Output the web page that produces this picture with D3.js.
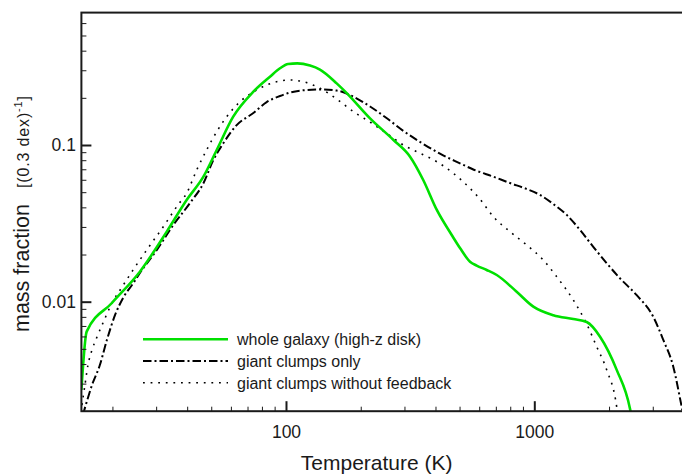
<!DOCTYPE html>
<html><head><meta charset="utf-8">
<script src="https://cdn.jsdelivr.net/npm/d3@7"></script>
<style>
body{margin:0;background:#fff}
svg{display:block}
text{font-family:"Liberation Sans",Arial,Helvetica,sans-serif;fill:#1a1a1a}
</style>
</head><body>
<svg id="c" width="682" height="475"></svg>
<script>
// ---- data ----
const wholeT = [15.0, 15.75, 19.9, 25.8, 33.1, 39.8, 46.5, 52.6, 61.3, 73.9, 86.2, 94.6, 102, 111, 125, 137, 160, 176, 218, 271, 316, 357, 405, 465, 502, 551, 586, 643, 706, 849, 991, 1193, 1436, 1626, 1840, 2147, 2429, 2497];
const wholeV = [0.00273, 0.00644, 0.00981, 0.01554, 0.028, 0.0446, 0.0628, 0.0929, 0.1516, 0.219, 0.273, 0.309, 0.329, 0.332, 0.3215, 0.303, 0.2475, 0.2138, 0.148, 0.1076, 0.0842, 0.0598, 0.0385, 0.02665, 0.022, 0.018, 0.0170, 0.01594, 0.0148, 0.01158, 0.0093, 0.0082, 0.00775, 0.00742, 0.00598, 0.00367, 0.00207, 0.00163];

const clumpsT = [15.2, 15.5, 16.55, 17.8, 19.0, 20.5, 22.3, 24.3, 25.8, 30.2, 35.2, 41.1, 46.5, 51.0, 55.9, 63.3, 73.9, 83.6, 94.6, 103.8, 121, 137, 160, 187, 218, 254, 297, 347, 417, 502, 568, 684, 798, 932, 1054, 1193, 1351, 1528, 1728, 1957, 2214, 2585, 3015, 3307, 3628, 3923, 4100];
const clumpsV = [0.00189, 0.0021, 0.00294, 0.00394, 0.0057, 0.00823, 0.01087, 0.01316, 0.01525, 0.0214, 0.0309, 0.0427, 0.057, 0.0802, 0.1025, 0.134, 0.16, 0.188, 0.2055, 0.2163, 0.2244, 0.226, 0.2227, 0.2033, 0.1761, 0.1487, 0.123, 0.1045, 0.088, 0.0764, 0.0698, 0.0628, 0.0572, 0.0524, 0.048, 0.042, 0.0358, 0.0287, 0.0224, 0.0176, 0.0141, 0.0110, 0.0080, 0.0057, 0.00385, 0.00213, 0.0015];

const noFbT = [15.08, 15.5, 15.94, 16.55, 17.33, 18.32, 19.92, 21.86, 24.2, 27.5, 32.05, 36.7, 39.8, 43.7, 47.9, 52.6, 57.7, 65.3, 73.9, 83.6, 94.6, 103.8, 117.4, 137, 160, 187, 218, 254, 297, 347, 405, 472, 551, 604, 684, 798, 932, 1087, 1231, 1436, 1626, 1784, 1957, 2147, 2194];
const noFbV = [0.00219, 0.00294, 0.00394, 0.00492, 0.00595, 0.00731, 0.00981, 0.0124, 0.0159, 0.0214, 0.0301, 0.0414, 0.0492, 0.0693, 0.0929, 0.1216, 0.1516, 0.189, 0.218, 0.2415, 0.2562, 0.26, 0.2535, 0.2301, 0.1966, 0.1631, 0.1402, 0.1188, 0.1, 0.0885, 0.0782, 0.066, 0.0529, 0.0452, 0.0349, 0.028, 0.023, 0.01845, 0.01443, 0.01025, 0.0072, 0.00516, 0.00367, 0.00213, 0.00163];

const seriesNames = ["whole galaxy (high-z disk)", "giant clumps only", "giant clumps without feedback"];
const xMajorTicks = [100, 1000];
const xTickLabels = ["100", "1000"];
const xMinorTicks = [20, 30, 40, 50, 60, 70, 80, 90, 200, 300, 400, 500, 600, 700, 800, 900, 2000, 3000];
const yMajorTicks = [0.01, 0.1];
const yTickLabels = ["0.01", "0.1"];
const yMinorTicks = [0.003, 0.004, 0.005, 0.006, 0.007, 0.008, 0.009, 0.02, 0.03, 0.04, 0.05, 0.06, 0.07, 0.08, 0.09, 0.2, 0.3, 0.4, 0.5, 0.6];
const xTitle = "Temperature (K)";
const yTitle = "mass fraction";

// ---- layout ----
const L = 81.4, R = 683.8, T = 12.6, B = 411.2;
const svg = d3.select("#c");
const x = d3.scaleLog().domain([15, 4000]).range([L, R]);
const y = d3.scaleLog().domain([0.002, 0.7]).range([B, T]);

const ink = "#1a1a1a";
const styles = [
  {stroke: "#00e000", width: 2.6, dash: null},
  {stroke: "#000", width: 2, dash: "8.5,3,2,3"},
  {stroke: "#000", width: 1.6, dash: "1.8,5.8"}
];
const series = [
  wholeT.map((t, i) => [t, wholeV[i]]),
  clumpsT.map((t, i) => [t, clumpsV[i]]),
  noFbT.map((t, i) => [t, noFbV[i]])
];

svg.append("defs").append("clipPath").attr("id", "clip")
  .append("rect").attr("x", L).attr("y", T).attr("width", R - L).attr("height", B - T);

const line = d3.line().x(d => x(d[0])).y(d => y(d[1])).curve(d3.curveMonotoneX);
const g = svg.append("g").attr("clip-path", "url(#clip)");
[2, 1, 0].forEach(k => {
  g.append("path").datum(series[k]).attr("d", line)
    .attr("fill", "none").attr("stroke", styles[k].stroke)
    .attr("stroke-width", styles[k].width)
    .attr("stroke-dasharray", styles[k].dash)
    .attr("stroke-linejoin", "round");
});

// ---- axes ----
function style(sel, w) {
  sel.select(".domain").remove();
  sel.selectAll(".tick line").attr("stroke", ink).attr("stroke-width", w);
  sel.selectAll(".tick text").attr("font-size", 17.5).attr("fill", ink)
    .style("font-family", '"Liberation Sans",Arial,sans-serif');
}
svg.append("g").attr("transform", `translate(0,${B})`)
  .call(d3.axisBottom(x).tickValues(xMinorTicks).tickSize(-4.5).tickFormat(""))
  .call(s => style(s, 1));
svg.append("g").attr("transform", `translate(0,${B})`)
  .call(d3.axisBottom(x).tickValues(xMajorTicks).tickSize(-10).tickPadding(14)
    .tickFormat((d, i) => xTickLabels[i]))
  .call(s => style(s, 2));
svg.append("g").attr("transform", `translate(${L},0)`)
  .call(d3.axisLeft(y).tickValues(yMinorTicks).tickSize(-5).tickFormat(""))
  .call(s => style(s, 1));
svg.append("g").attr("transform", `translate(${L},0)`)
  .call(d3.axisLeft(y).tickValues(yMajorTicks).tickSize(-10).tickPadding(5.5)
    .tickFormat((d, i) => yTickLabels[i]))
  .call(s => style(s, 2));

// frame
svg.append("rect").attr("x", L).attr("y", T).attr("width", R - L).attr("height", B - T)
  .attr("fill", "none").attr("stroke", ink).attr("stroke-width", 2);

// ---- titles ----
svg.append("text").attr("x", 376.7).attr("y", 470).attr("text-anchor", "middle")
  .attr("font-size", 21).text(xTitle);

svg.append("text").attr("transform", "translate(29,332) rotate(-90)")
  .attr("font-size", 21.5).text(yTitle);
const yt2 = svg.append("text").attr("transform", "translate(28.5,188) rotate(-90)")
  .attr("font-size", 16).attr("textLength", 92).attr("lengthAdjust", "spacing");
yt2.append("tspan").text("[(0.3 dex)");
yt2.append("tspan").attr("font-size", 11).attr("dy", -7).text("-1");
yt2.append("tspan").attr("dy", 7).text("]");

// ---- legend ----
const legY = [339.3, 361, 382.7];
const leg = svg.append("g");
seriesNames.forEach((name, k) => {
  leg.append("line").attr("x1", 143).attr("x2", 228).attr("y1", legY[k]).attr("y2", legY[k])
    .attr("stroke", styles[k].stroke).attr("stroke-width", styles[k].width)
    .attr("stroke-dasharray", styles[k].dash);
  leg.append("text").attr("x", 237).attr("y", legY[k] + 5.8).attr("font-size", 16).text(name);
});
</script>
</body></html>
